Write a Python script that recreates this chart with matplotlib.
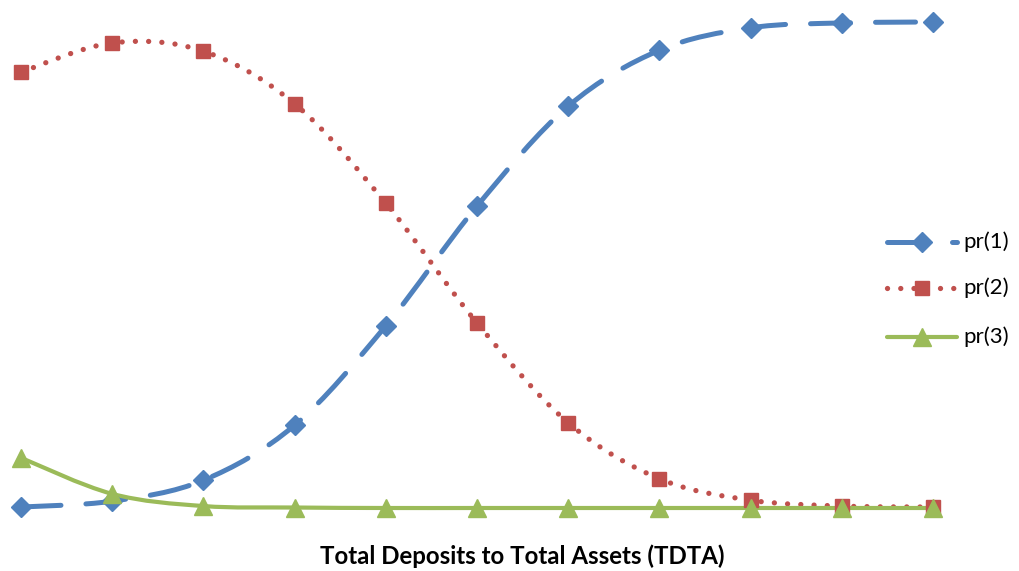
import numpy as np
import matplotlib.pyplot as plt
from matplotlib.path import Path
from matplotlib.patches import PathPatch
from matplotlib.lines import Line2D

# values (11 evenly spaced TDTA points)
x = np.arange(11)
pr1 = [0.002, 0.014, 0.057, 0.170, 0.374, 0.620, 0.825, 0.940, 0.986, 0.996, 0.998]
pr2 = [0.895, 0.955, 0.938, 0.830, 0.626, 0.380, 0.175, 0.060, 0.016, 0.004, 0.002]
pr3 = [0.103, 0.029, 0.004, 0.001, 0.000, 0.000, 0.000, 0.000, 0.000, 0.000, 0.000]
labels = ['pr(1)', 'pr(2)', 'pr(3)']

colors = ['#4F81BD', '#C0504D', '#9BBB59']
markers = ['D', 's', '^']
msizes = [10, 10.5, 13.5]
styles = [(0, (8, 5)), (0, (0.01, 2.5)), '-']
widths = [3.6, 3.8, 3.0]


def smooth_path(xs, ys):
    # Excel-like smoothed line: cubic bezier segments through the points
    p = np.column_stack([xs, ys]).astype(float)
    verts = [p[0]]
    codes = [Path.MOVETO]
    n = len(p)
    for i in range(n - 1):
        p0 = p[i - 1] if i > 0 else p[i]
        p3 = p[i + 2] if i + 2 < n else p[i + 1]
        c1 = p[i] + (p[i + 1] - p0) / 6
        c2 = p[i + 1] - (p3 - p[i]) / 6
        verts += [c1, c2, p[i + 1]]
        codes += [Path.CURVE4] * 3
    return Path(verts, codes)


W, H = 1019, 571
fig = plt.figure(figsize=(W / 100, H / 100), dpi=100)
ax = fig.add_axes([21 / W, 63 / H, 912 / W, 487 / H])

for ys, c, m, ms, ls, lw in zip([pr1, pr2, pr3], colors, markers, msizes, styles, widths):
    patch = PathPatch(smooth_path(x, ys), fill=False, edgecolor=c, lw=lw,
                      linestyle=ls, capstyle='round', joinstyle='round',
                      clip_on=False)
    ax.add_patch(patch)
    ax.plot(x, ys, linestyle='none', marker=m, ms=ms, color=c, clip_on=False)

ax.set_xlim(0, 10)
ax.set_ylim(0, 1)
ax.axis('off')

# legend drawn by hand so the sample lines sit where Excel puts them
leg_y = [242, 288, 337]
for yy, c, m, ms, ls, lw, lab in zip(leg_y, colors, markers, msizes, styles, widths, labels):
    fy = 1 - yy / H
    ln = Line2D([887 / W, 922 / W, 957 / W], [fy, fy, fy], transform=fig.transFigure,
                color=c, lw=lw, linestyle=ls, marker=m, ms=ms, markevery=[1],
                dash_capstyle='round', solid_capstyle='round')
    fig.add_artist(ln)
    fig.text(963 / W, fy, lab, ha='left', va='center', fontsize=16, family='Lato')

fig.text(522 / W, 1 - 556 / H, 'Total Deposits to Total Assets (TDTA)',
         ha='center', va='center', fontsize=17.3, fontweight='bold', family='Lato')

fig.savefig('out.png', dpi=100)
